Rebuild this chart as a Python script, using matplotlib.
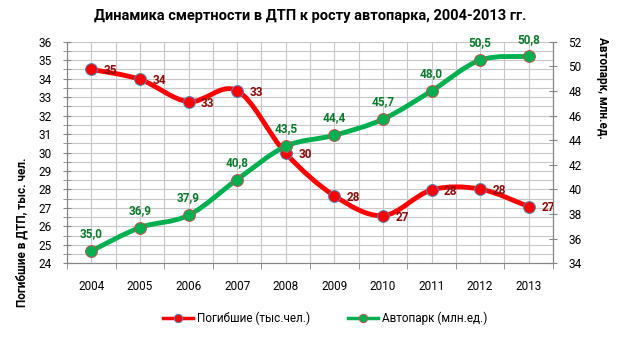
import matplotlib
matplotlib.use("Agg")
import matplotlib.pyplot as plt
from matplotlib.path import Path
from matplotlib.patches import PathPatch
from matplotlib.lines import Line2D
from matplotlib.ticker import MultipleLocator

plt.rcParams['font.family'] = ['Roboto', 'DejaVu Sans']

years = ['2004', '2005', '2006', '2007', '2008', '2009', '2010', '2011', '2012', '2013']
deaths = [34.5, 33.96, 32.75, 33.35, 29.96, 27.66, 26.58, 27.97, 28.02, 27.07]
cars = [35.0, 36.9, 37.9, 40.8, 43.5, 44.4, 45.7, 48.0, 50.5, 50.8]

title = 'Динамика смертности в ДТП к росту автопарка, 2004-2013 гг.'
left_label = 'Погибшие в ДТП, тыс. чел.'
right_label = 'Автопарк, млн.ед.'
legend_labels = ['Погибшие (тыс.чел.)', 'Автопарк (млн.ед.)']

RED = '#FF0000'
GREEN = '#00B050'
RED_TXT = '#8B0A0A'
GREEN_TXT = '#0A7A2A'
GRID = '#C8C8C8'


def smooth_path(xs, ys):
    # bezier curve through the points, like excel's smoothed line
    pts = list(zip(xs, ys))
    verts = [pts[0]]
    codes = [Path.MOVETO]
    n = len(pts)
    for i in range(n - 1):
        p0 = pts[i - 1] if i > 0 else pts[i]
        p1 = pts[i]
        p2 = pts[i + 1]
        p3 = pts[i + 2] if i + 2 < n else pts[i + 1]
        c1 = (p1[0] + (p2[0] - p0[0]) / 6, p1[1] + (p2[1] - p0[1]) / 6)
        c2 = (p2[0] - (p3[0] - p1[0]) / 6, p2[1] - (p3[1] - p1[1]) / 6)
        verts += [c1, c2, p2]
        codes += [Path.CURVE4] * 3
    return Path(verts, codes)


fig = plt.figure(figsize=(6.2, 3.37), dpi=100)
ax1 = fig.add_axes([67 / 620, 1 - 263.3 / 337, 486 / 620, 221.6 / 337])
ax2 = ax1.twinx()

x = list(range(len(years)))

ax1.set_xlim(-0.5, 9.5)
ax1.set_ylim(24, 36)
ax2.set_ylim(34, 52)

# grid: category centers and boundaries, half units on the left axis
for v in [i * 0.5 - 0.5 for i in range(21)]:
    ax1.axvline(v, color=GRID, lw=0.8, zorder=0)
for v in [24 + i * 0.5 for i in range(25)]:
    ax1.axhline(v, color=GRID, lw=0.8, zorder=0)

ax1.yaxis.set_major_locator(MultipleLocator(1))
ax1.yaxis.set_minor_locator(MultipleLocator(0.5))
ax2.yaxis.set_major_locator(MultipleLocator(2))
ax1.set_xticks(x)
ax1.set_xticklabels(years)
ax1.set_xticks([i - 0.5 for i in range(11)], minor=True)

ax1.tick_params(axis='x', which='major', length=0, labelsize=8.5, pad=12, colors='#000000')
ax1.tick_params(axis='x', which='minor', length=4, direction='out', color='#868686')
ax1.tick_params(axis='y', which='major', length=6, direction='inout', labelsize=8.5,
                color='#868686', labelcolor='#000000', pad=8)
ax1.tick_params(axis='y', which='minor', length=6, direction='inout', color='#868686')
ax2.tick_params(axis='y', which='major', length=6, direction='inout', labelsize=8.5,
                color='#868686', labelcolor='#000000', pad=8)

for ax in (ax1, ax2):
    ax.spines['top'].set_visible(False)
    for s in ('left', 'right', 'bottom'):
        ax.spines[s].set_color('#868686')
        ax.spines[s].set_linewidth(0.8)

ax1.add_patch(PathPatch(smooth_path(x, deaths), fill=False, edgecolor=RED,
                        lw=3.5, capstyle='round', joinstyle='round', zorder=3))
ax2.add_patch(PathPatch(smooth_path(x, cars), fill=False, edgecolor=GREEN,
                        lw=3.5, capstyle='round', joinstyle='round', zorder=3))
ax1.plot(x, deaths, 'o', ms=8.5, mfc=RED, mec='#4F81BD', mew=0.7, zorder=4)
ax2.plot(x, cars, 'o', ms=8.5, mfc=GREEN, mec='#C0504D', mew=0.7, zorder=4)

for xi, v in zip(x, deaths):
    ax1.annotate('%d' % int(v + 0.5), (xi, v), xytext=(9, -1), textcoords='offset points',
                 ha='left', va='center', fontsize=8.5, fontweight='bold', color=RED_TXT, zorder=5)
for xi, v in zip(x, cars):
    ax2.annotate(('%.1f' % v).replace('.', ','), (xi, v), xytext=(0, 12.5), textcoords='offset points',
                 ha='center', va='center', fontsize=8.5, fontweight='bold', color=GREEN_TXT, zorder=5)

fig.text(0.5, 1 - 16 / 337, title, ha='center', va='center', fontsize=10.5, fontweight='bold')
fig.text(22 / 620, 1 - 232 / 337, left_label, rotation=90, ha='center', va='center',
         fontsize=8.5, fontweight='bold')
fig.text(603 / 620, 1 - 88 / 337, right_label, rotation=-90, ha='center', va='center',
         fontsize=8.5, fontweight='bold')

handles = [
    Line2D([], [], color=RED, lw=2.5, marker='o', ms=6, mfc=RED, mec='#4F81BD', mew=0.7),
    Line2D([], [], color=GREEN, lw=2.5, marker='o', ms=6, mfc=GREEN, mec='#C0504D', mew=0.7),
]
fig.legend(handles, legend_labels, loc='center', bbox_to_anchor=(325 / 620, 1 - 318 / 337),
           ncol=2, frameon=False, fontsize=8.5, handlelength=2.6, handletextpad=0.3,
           columnspacing=3.2)

fig.savefig('out.png', dpi=100)
